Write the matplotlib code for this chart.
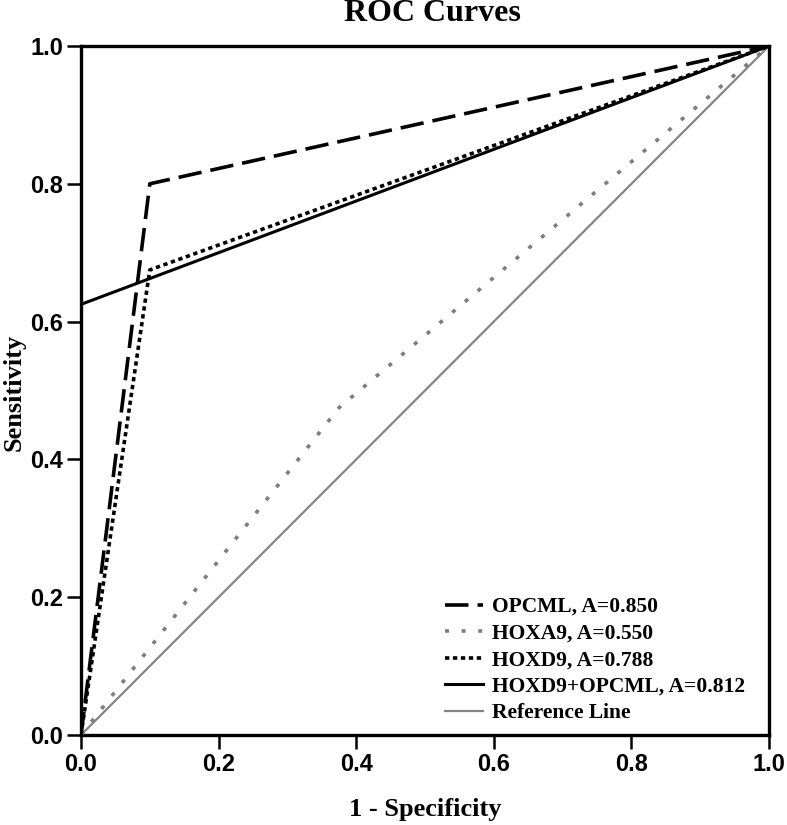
import matplotlib
matplotlib.use("Agg")
import matplotlib.pyplot as plt

# Data
opcml_fpr = [0.0, 0.1, 1.0]
opcml_tpr = [0.0, 0.8, 1.0]
hoxa9_fpr = [0.0, 0.375, 1.0]
hoxa9_tpr = [0.0, 0.475, 1.0]
hoxd9_fpr = [0.0, 0.1, 1.0]
hoxd9_tpr = [0.0, 0.675, 1.0]
combo_fpr = [0.0, 0.0, 1.0]
combo_tpr = [0.0, 0.625, 1.0]
ref_x = [0.0, 1.0]
ref_y = [0.0, 1.0]
labels = ["OPCML, A=0.850", "HOXA9, A=0.550", "HOXD9, A=0.788",
          "HOXD9+OPCML, A=0.812", "Reference Line"]
ticks = [0.0, 0.2, 0.4, 0.6, 0.8, 1.0]
tick_labels = ["0.0", "0.2", "0.4", "0.6", "0.8", "1.0"]

sans = "Liberation Sans"
serif = "Liberation Serif"
W, H = 787, 825

fig = plt.figure(figsize=(W / 100, H / 100), dpi=100)
ax = fig.add_axes([81 / W, (H - 735) / H, (769 - 81) / W, (735 - 46) / H])

ax.plot(opcml_fpr, opcml_tpr, color="black", lw=2.6, linestyle=(0, (6.5, 2.5)),
        label=labels[0], zorder=4)
ax.plot(hoxa9_fpr, hoxa9_tpr, color="#7d7d7d", lw=2.6, linestyle=(0, (1.1, 3.5)),
        label=labels[1], zorder=3)
ax.plot(hoxd9_fpr, hoxd9_tpr, color="black", lw=2.6, linestyle=(0, (1.2, 1.0)),
        label=labels[2], zorder=4)
ax.plot(combo_fpr, combo_tpr, color="black", lw=2.2, linestyle="-",
        label=labels[3], zorder=4)
ax.plot(ref_x, ref_y, color="#858585", lw=1.6, linestyle="-",
        label=labels[4], zorder=2)

ax.set_xlim(0, 1)
ax.set_ylim(0, 1)
ax.set_xticks(ticks)
ax.set_yticks(ticks)
ax.set_xticklabels(tick_labels, fontfamily=sans, fontweight="bold", fontsize=17)
ax.set_yticklabels(tick_labels, fontfamily=sans, fontweight="bold", fontsize=17)
ax.tick_params(direction="out", length=10, width=1.8, pad=3, top=False, right=False)
for s in ax.spines.values():
    s.set_linewidth(2.4)
    s.set_color("black")

fig.text(432 / W, 1 - 21 / H, "ROC Curves", fontfamily=serif, fontweight="bold",
         fontsize=23, ha="center", va="baseline")
fig.text(425.5 / W, 9 / H, "1 - Specificity", fontfamily=serif, fontweight="bold",
         fontsize=19, ha="center", va="baseline")
fig.text(3 / W, 1 - 392 / H, "Sensitivity", fontfamily=serif, fontweight="bold",
         fontsize=19, ha="left", va="center", rotation=90)

leg = ax.legend(loc="upper left", frameon=False,
                prop={"family": serif, "weight": "bold", "size": 15.5},
                handlelength=1.75, handletextpad=0.45, labelspacing=0.3,
                borderpad=0, borderaxespad=0,
                bbox_to_anchor=(445 / W, 1 - 597 / H),
                bbox_transform=fig.transFigure)

fig.savefig("out.png", dpi=100)
